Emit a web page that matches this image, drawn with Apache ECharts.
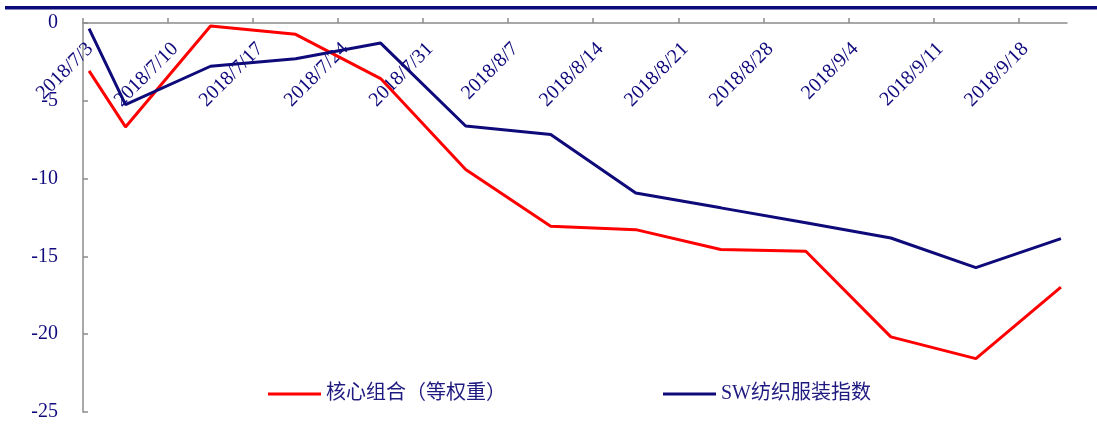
<!DOCTYPE html>
<html style="height: 100%">
<head>
<meta charset="utf-8">
<script src="https://cdn.jsdelivr.net/npm/echarts@6/dist/echarts.min.js"></script>
</head>
<body style="height: 100%; margin: 0; background: #fff">
<div id="container" style="width: 1097px; height: 424px"></div>
<script type="text/javascript">
// weekly observations (Friday closes, first point is the start date)
var dates = ['2018/7/3', '2018/7/6', '2018/7/13', '2018/7/20', '2018/7/27', '2018/8/3', '2018/8/10',
    '2018/8/17', '2018/8/24', '2018/8/31', '2018/9/7', '2018/9/14', '2018/9/21'];
var coreGroup = [-3.08, -6.68, -0.19, -0.73, -3.57, -9.42, -13.07, -13.28, -14.56, -14.67, -20.17, -21.57, -16.97];
var swTextile = [-0.36, -5.24, -2.78, -2.3, -1.29, -6.62, -7.17, -10.93, -11.88, -12.84, -13.82, -15.72, -13.86];
var tickLabels = ['2018/7/3', '2018/7/10', '2018/7/17', '2018/7/24', '2018/7/31', '2018/8/7', '2018/8/14',
    '2018/8/21', '2018/8/28', '2018/9/4', '2018/9/11', '2018/9/18'];
var seriesNames = ['核心组合（等权重）', 'SW纺织服装指数'];

var navy = '#100A7C';
var serif = "'Times New Roman', 'Liberation Serif', 'Noto Sans CJK SC', serif";

function dayIndex(s) {
    var p = s.split('/');
    var t = Date.UTC(+p[0], +p[1] - 1, +p[2]);
    var p0 = dates[0].split('/');
    var t0 = Date.UTC(+p0[0], +p0[1] - 1, +p0[2]);
    return Math.round((t - t0) / 86400000);
}

// excel date axis: each day is one slot, points sit in the middle of their day
function toPoints(values) {
    return values.map(function (v, i) { return [dayIndex(dates[i]) + 0.5, v]; });
}

var dom = document.getElementById('container');
var myChart = echarts.init(dom);

var legendText = { color: '#1F1A80', fontSize: 20, fontFamily: serif };

var option = {
    animation: false,
    grid: { left: 83, right: 30, top: 23, bottom: 12 },
    graphic: [{
        type: 'rect',
        left: 5, top: 6,
        shape: { width: 1092, height: 3.5 },
        style: { fill: '#0A0A78' },
        silent: true
    }],
    legend: [{
        data: [seriesNames[0]],
        left: 268, top: 384, padding: 0,
        icon: 'rect',
        itemWidth: 53, itemHeight: 3,
        textStyle: legendText
    }, {
        data: [seriesNames[1]],
        left: 663, top: 384, padding: 0,
        icon: 'rect',
        itemWidth: 53, itemHeight: 3,
        textStyle: legendText
    }],
    xAxis: {
        type: 'value',
        position: 'top',
        min: 0,
        max: dayIndex(dates[dates.length - 1]) + 1,
        interval: 7,
        splitLine: { show: false },
        axisLine: { onZero: false, lineStyle: { color: '#8C8C8C', width: 1.5 } },
        axisTick: { inside: false, length: 5, lineStyle: { color: '#8C8C8C', width: 1.5 } },
        axisLabel: {
            inside: true,
            rotate: -45,
            margin: 16,
            verticalAlign: 'top',
            color: navy,
            fontSize: 20,
            fontFamily: serif,
            showMaxLabel: false,
            formatter: function (v) {
                var k = Math.round(v / 7);
                return (v % 7 === 0 && tickLabels[k]) ? tickLabels[k] : '';
            }
        }
    },
    yAxis: {
        type: 'value',
        min: -25,
        max: 0,
        interval: 5,
        splitLine: { show: false },
        axisLine: { show: true, lineStyle: { color: '#8C8C8C', width: 1.5 } },
        axisTick: { show: true, inside: true, length: 5, lineStyle: { color: '#8C8C8C', width: 1.5 } },
        axisLabel: { margin: 25, color: navy, fontSize: 20, fontFamily: serif }
    },
    series: [{
        name: seriesNames[0],
        type: 'line',
        symbol: 'none',
        data: toPoints(coreGroup),
        lineStyle: { color: '#FF0000', width: 3 },
        itemStyle: { color: '#FF0000' },
        z: 3
    }, {
        name: seriesNames[1],
        type: 'line',
        symbol: 'none',
        data: toPoints(swTextile),
        lineStyle: { color: '#0E0A7A', width: 3 },
        itemStyle: { color: '#0E0A7A' },
        z: 4
    }]
};

myChart.setOption(option);
</script>
</body>
</html>
